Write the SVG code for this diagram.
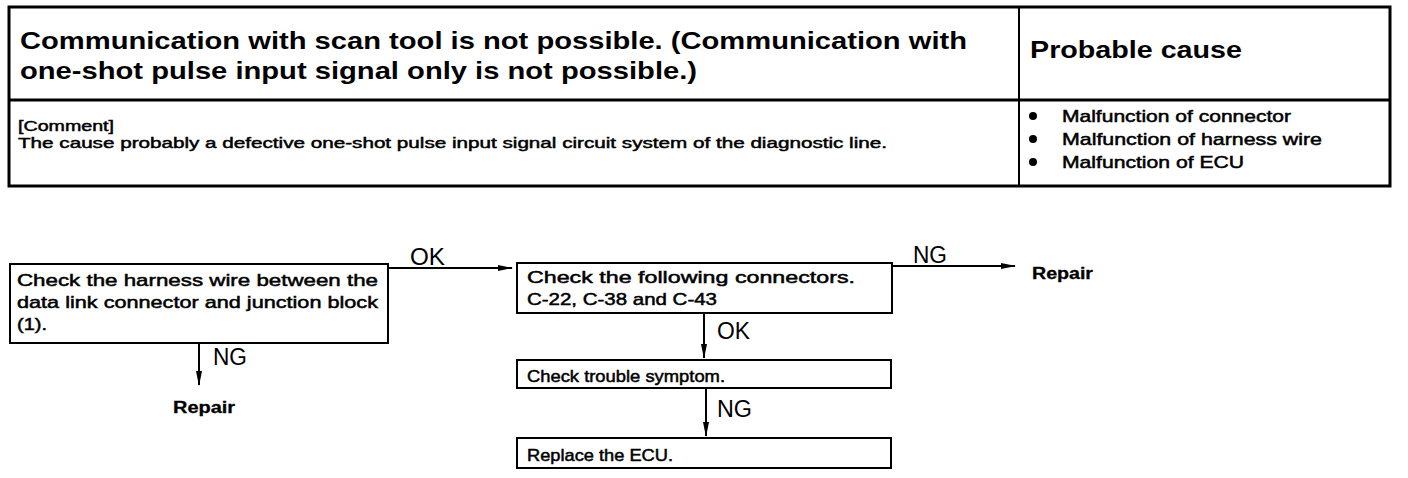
<svg xmlns="http://www.w3.org/2000/svg" width="1408" height="478" viewBox="0 0 1408 478">
<style>
.t{font-family:"Liberation Sans",Arial,sans-serif;fill:#000}
.h{font-size:24px;font-weight:bold}
.s{font-size:14px;stroke:#000;stroke-width:0.45}
.b{font-size:17px;stroke:#000;stroke-width:0.5}
.f{font-size:17px;stroke:#000;stroke-width:0.5}
.l{font-size:23px}
.r{font-size:16px;font-weight:bold;stroke:#000;stroke-width:0.3}
.box{fill:#fff;stroke:#000;stroke-width:2}
.ln{stroke:#000;stroke-width:2;fill:none}
</style>
<defs>
<marker id="ah" markerWidth="15" markerHeight="8" refX="14" refY="4" orient="auto" markerUnits="userSpaceOnUse">
<path d="M0,1 L15,4 L0,7 Z" fill="#000"/>
</marker>
</defs>
<rect width="1408" height="478" fill="#fff"/>
<g id="table">
<rect x="9" y="7" width="1381" height="179" fill="none" stroke="#000" stroke-width="3"/>
<line x1="9" y1="100" x2="1390" y2="100" stroke="#000" stroke-width="3"/>
<line x1="1019" y1="7" x2="1019" y2="186" stroke="#000" stroke-width="2"/>
<text class="t h" x="20" y="49" textLength="947" lengthAdjust="spacingAndGlyphs">Communication with scan tool is not possible. (Communication with</text>
<text class="t h" x="20" y="79" textLength="677" lengthAdjust="spacingAndGlyphs">one-shot pulse input signal only is not possible.)</text>
<text class="t h" x="1030" y="58" textLength="212" lengthAdjust="spacingAndGlyphs">Probable cause</text>
<text class="t s" x="18" y="131" textLength="96" lengthAdjust="spacingAndGlyphs">[Comment]</text>
<text class="t s" x="18" y="148" textLength="869" lengthAdjust="spacingAndGlyphs">The cause probably a defective one-shot pulse input signal circuit system of the diagnostic line.</text>
<circle cx="1033" cy="116" r="4"/>
<circle cx="1033" cy="139" r="4"/>
<circle cx="1033" cy="162" r="4"/>
<text class="t b" x="1062" y="122" textLength="229" lengthAdjust="spacingAndGlyphs">Malfunction of connector</text>
<text class="t b" x="1062" y="145" textLength="260" lengthAdjust="spacingAndGlyphs">Malfunction of harness wire</text>
<text class="t b" x="1062" y="168" textLength="182" lengthAdjust="spacingAndGlyphs">Malfunction of ECU</text>
</g>
<g id="n1">
<rect class="box" x="10" y="264" width="378" height="79"/>
<text class="t f" x="17" y="286" textLength="361" lengthAdjust="spacingAndGlyphs">Check the harness wire between the</text>
<text class="t f" x="17" y="308" textLength="361" lengthAdjust="spacingAndGlyphs">data link connector and junction block</text>
<text class="t f" x="17" y="330" textLength="30" lengthAdjust="spacingAndGlyphs">(1).</text>
</g>
<g id="n2">
<rect class="box" x="517" y="263" width="375" height="50"/>
<text class="t f" x="527" y="283" textLength="328" lengthAdjust="spacingAndGlyphs">Check the following connectors.</text>
<text class="t f" x="527" y="305" textLength="190" lengthAdjust="spacingAndGlyphs">C-22, C-38 and C-43</text>
</g>
<g id="n3">
<rect class="box" x="517" y="360" width="374" height="28"/>
<text class="t f" x="527" y="382" textLength="198" lengthAdjust="spacingAndGlyphs">Check trouble symptom.</text>
</g>
<g id="n4">
<rect class="box" x="517" y="438" width="374" height="30"/>
<text class="t f" x="527" y="461" textLength="146" lengthAdjust="spacingAndGlyphs">Replace the ECU.</text>
</g>
<g id="repair1">
<text class="t r" x="173" y="413" textLength="62" lengthAdjust="spacingAndGlyphs">Repair</text>
</g>
<g id="repair2">
<text class="t r" x="1032" y="279" textLength="61" lengthAdjust="spacingAndGlyphs">Repair</text>
</g>
<g id="connectors">
<line class="ln" x1="388" y1="268" x2="512" y2="268" marker-end="url(#ah)"/>
<text class="t l" x="410" y="265" textLength="35" lengthAdjust="spacingAndGlyphs">OK</text>
<line class="ln" x1="892" y1="266" x2="1015" y2="266" marker-end="url(#ah)"/>
<text class="t l" x="913" y="263" textLength="34" lengthAdjust="spacingAndGlyphs">NG</text>
<line class="ln" x1="199" y1="343" x2="199" y2="385" marker-end="url(#ah)"/>
<text class="t l" x="213" y="365" textLength="34" lengthAdjust="spacingAndGlyphs">NG</text>
<line class="ln" x1="704" y1="313" x2="704" y2="358" marker-end="url(#ah)"/>
<text class="t l" x="717" y="339" textLength="33" lengthAdjust="spacingAndGlyphs">OK</text>
<line class="ln" x1="706" y1="388" x2="706" y2="436" marker-end="url(#ah)"/>
<text class="t l" x="717" y="417" textLength="35" lengthAdjust="spacingAndGlyphs">NG</text>
</g>
</svg>
